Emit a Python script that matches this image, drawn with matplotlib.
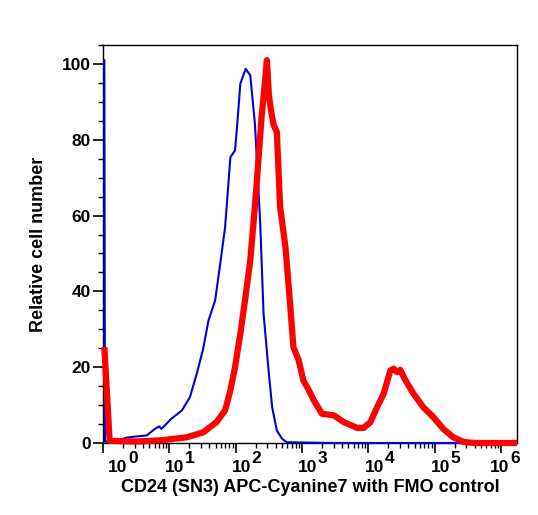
import numpy as np
import matplotlib
matplotlib.use("Agg")
import matplotlib.pyplot as plt
import matplotlib.transforms as mtransforms
from matplotlib.ticker import FixedLocator, MultipleLocator, LogLocator, NullFormatter

plt.rcParams['font.family'] = ['Liberation Sans', 'DejaVu Sans']
plt.rcParams['font.weight'] = 'bold'

# log10 of fluorescence intensity, relative cell number
fmo_log = [0.02, 0.03, 0.21, 0.38, 0.66, 0.78, 0.85, 0.88, 1.03, 1.19, 1.31, 1.42,
           1.51, 1.59, 1.69, 1.76, 1.84, 1.92, 1.99, 2.02, 2.07, 2.15, 2.22, 2.29,
           2.37, 2.42, 2.50, 2.55, 2.62, 2.70, 2.77, 3.50, 6.24]
fmo_count = [101, 0.3, 0.7, 1.5, 2.0, 3.7, 4.4, 3.7, 6.4, 8.6, 12.1, 18.7,
             24.9, 32.3, 37.6, 46.4, 56.9, 75.4, 77.2, 83.3, 94.8, 98.7, 97, 84.2,
             57.8, 34.1, 18.3, 9.4, 3.3, 1.1, 0.2, 0, 0]

cd24_log = [0.02, 0.10, 0.50, 0.86, 1.26, 1.51, 1.71, 1.84, 1.92, 1.99,
            2.07, 2.14, 2.22, 2.28, 2.32, 2.39, 2.44, 2.47, 2.50, 2.53, 2.57, 2.62,
            2.67, 2.75, 2.82, 2.87, 2.95, 3.02, 3.10, 3.17, 3.30, 3.48, 3.63, 3.83,
            3.93, 4.03, 4.13, 4.23, 4.33, 4.38, 4.43, 4.48, 4.56, 4.68, 4.83, 4.98,
            5.13, 5.28, 5.43, 5.60, 6.24]
cd24_count = [25.3, 0.6, 0.4, 0.7, 1.5, 2.8, 5.5, 8.6, 13.9, 20,
              28.8, 37.6, 48.2, 60.5, 69.3, 86, 95, 101, 92, 88, 84, 82,
              62.2, 51.7, 36.7, 25.3, 21.8, 16.5, 14, 11.5, 7.7, 7.3, 5.5, 4.0,
              4.0, 5.5, 9.4, 13, 19.1, 19.6, 18.7, 19.3, 16.5, 13, 9.4, 6.8,
              3.7, 1.5, 0.3, 0, 0]

decades = [0, 1, 2, 3, 4, 5, 6]
x_label = "CD24 (SN3) APC-Cyanine7 with FMO control"
y_label = "Relative cell number"

fig = plt.figure(figsize=(5.38, 5.15), dpi=100)
ax = fig.add_axes([103 / 538, 72 / 515, 414 / 538, 398 / 515])

ax.plot(10 ** np.array(fmo_log), fmo_count, color='#0000dd', lw=1.5,
        solid_joinstyle='round', clip_on=False, zorder=3)
ax.plot(10 ** np.array(cd24_log), cd24_count, color='#ff0000', lw=4.5,
        solid_joinstyle='round', solid_capstyle='butt', clip_on=False, zorder=4)

ax.set_xscale('log')
ax.set_xlim(1, 10 ** 6.24)
ax.set_ylim(0, 105)

ax.xaxis.set_major_locator(FixedLocator([10 ** d for d in decades]))
ax.xaxis.set_major_formatter(NullFormatter())
ax.xaxis.set_minor_locator(LogLocator(base=10, subs=np.arange(2, 10)))
ax.xaxis.set_minor_formatter(NullFormatter())
ax.yaxis.set_major_locator(MultipleLocator(20))
ax.yaxis.set_minor_locator(MultipleLocator(5))

ax.tick_params(axis='both', which='major', direction='out', length=7, width=1.2, pad=2)
ax.tick_params(axis='both', which='minor', direction='out', length=3.5, width=1)
ax.tick_params(axis='y', labelsize=12.5)
for s in ax.spines.values():
    s.set_linewidth(1)

ylabs = ax.get_yticklabels()
ylabs[0].set_transform(ylabs[0].get_transform() + mtransforms.ScaledTranslation(0, 6 / 100, fig.dpi_scale_trans))
for lab in ylabs:
    lab.set_fontweight('bold')

# decade labels: "10" with a full-size raised exponent (offsets in pixels)
px = 0.72
base_left = [5, -4, -4, -4, -4, -4, -11]
for d, dx in zip(decades, base_left):
    ax.annotate('10', xy=(10 ** d, 0), xycoords=('data', 'axes fraction'),
                xytext=(dx * px, -29 * px), textcoords='offset points',
                ha='left', va='baseline', fontsize=12.5, fontweight='bold',
                annotation_clip=False)
    ax.annotate(str(d), xy=(10 ** d, 0), xycoords=('data', 'axes fraction'),
                xytext=((dx + 20) * px, -20 * px), textcoords='offset points',
                ha='left', va='baseline', fontsize=12.5, fontweight='bold',
                annotation_clip=False)

fig.text(310 / 538, 1 - 488 / 515, x_label, ha='center', va='center',
         fontsize=13, fontweight='bold')
fig.text(39 / 538, 1 - 244 / 515, y_label, ha='center', va='center',
         rotation=90, fontsize=13, fontweight='bold')

fig.savefig("out.png", dpi=100)
